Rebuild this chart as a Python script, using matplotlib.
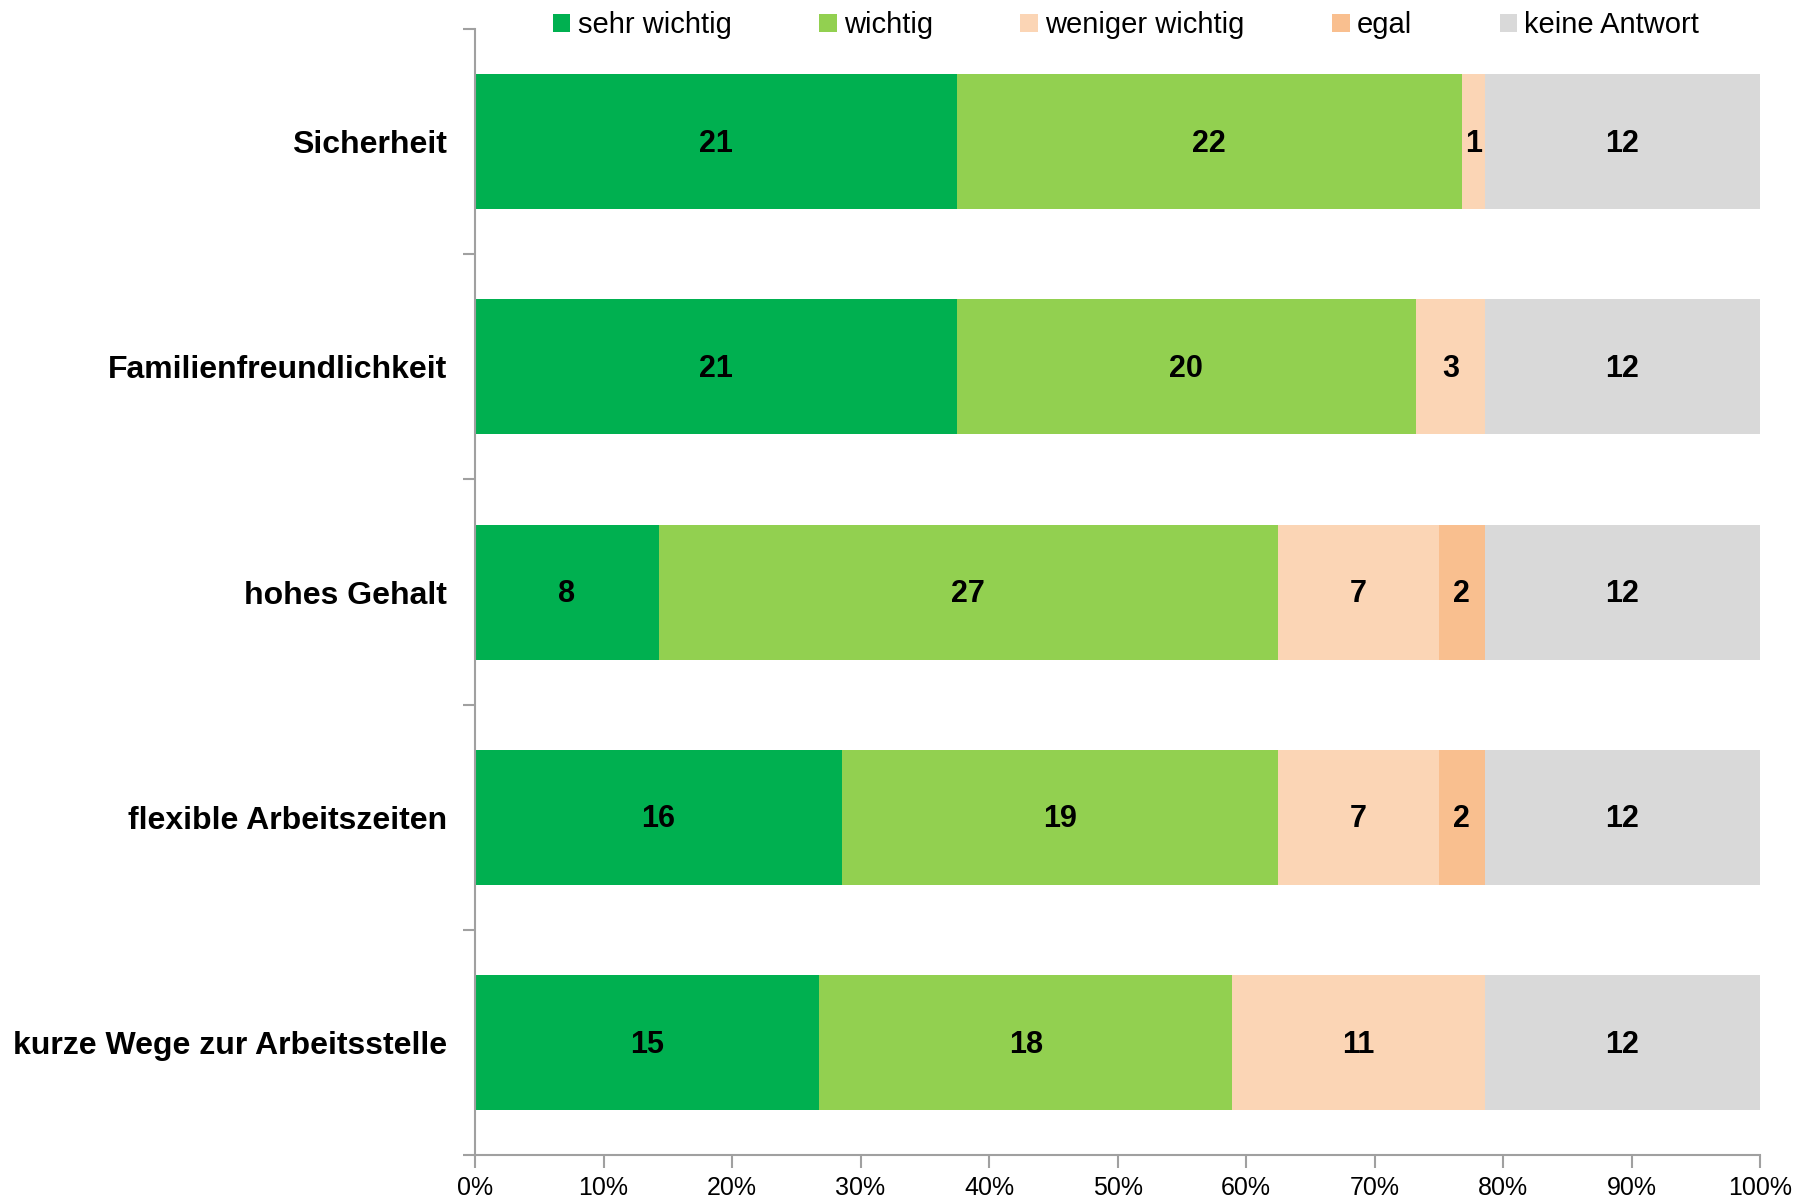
import matplotlib
matplotlib.use("Agg")
import matplotlib.pyplot as plt
import numpy as np
from matplotlib.patches import Patch

plt.rcParams['font.family'] = ['Liberation Sans', 'DejaVu Sans']

categories = ["Sicherheit", "Familienfreundlichkeit", "hohes Gehalt",
              "flexible Arbeitszeiten", "kurze Wege zur Arbeitsstelle"]
series_names = ["sehr wichtig", "wichtig", "weniger wichtig", "egal", "keine Antwort"]
sehr_wichtig = [21, 21, 8, 16, 15]
wichtig = [22, 20, 27, 19, 18]
weniger_wichtig = [1, 3, 7, 7, 11]
egal = [0, 0, 2, 2, 0]
keine_antwort = [12, 12, 12, 12, 12]
colors = ["#00B050", "#92D050", "#FBD5B5", "#F9BF8F", "#D9D9D9"]
xtick_labels = ["0%", "10%", "20%", "30%", "40%", "50%", "60%", "70%", "80%", "90%", "100%"]

data = np.array([sehr_wichtig, wichtig, weniger_wichtig, egal, keine_antwort], dtype=float)
totals = data.sum(axis=0)
frac = data / totals

fig = plt.figure(figsize=(17.96, 11.99), dpi=100)
ax = fig.add_axes([0.2645, 0.0367, 0.7155, 0.939])

y = np.arange(len(categories))
left = np.zeros(len(categories))
for i, name in enumerate(series_names):
    ax.barh(y, frac[i], left=left, height=0.6, color=colors[i], label=name)
    for j in range(len(categories)):
        if data[i, j] > 0:
            ax.text(left[j] + frac[i, j] / 2, y[j] + 0.01, f"{int(data[i, j])}",
                    ha="center", va="center", fontsize=22, fontweight="bold", color="black")
    left += frac[i]

ax.set_xlim(0, 1)
ax.set_ylim(len(categories) - 0.5, -0.5)
ax.set_xticks(np.linspace(0, 1, 11))
ax.set_xticklabels(xtick_labels, fontsize=18)
ax.set_yticks(y)
ax.set_yticklabels(categories, fontsize=23, fontweight="bold")
ax.set_yticks(np.arange(-0.5, len(categories)), minor=True)
ax.tick_params(axis="y", which="major", length=0, pad=20)
ax.tick_params(axis="y", which="minor", length=9, color="#A0A0A0", width=1.5)
ax.tick_params(axis="x", which="major", length=9, color="#A0A0A0", width=1.5, pad=6)
for s in ["top", "right"]:
    ax.spines[s].set_visible(False)
for s in ["left", "bottom"]:
    ax.spines[s].set_color("#A0A0A0")
    ax.spines[s].set_linewidth(1.5)

handles = [Patch(facecolor=c, edgecolor="none") for c in colors]
fig.legend(handles, series_names, loc="center", bbox_to_anchor=(0.627, 0.979), ncol=5,
           frameon=False, fontsize=21, handlelength=0.6, handleheight=0.6,
           handletextpad=0.25, columnspacing=3.0)

fig.savefig("out.png", dpi=100)
